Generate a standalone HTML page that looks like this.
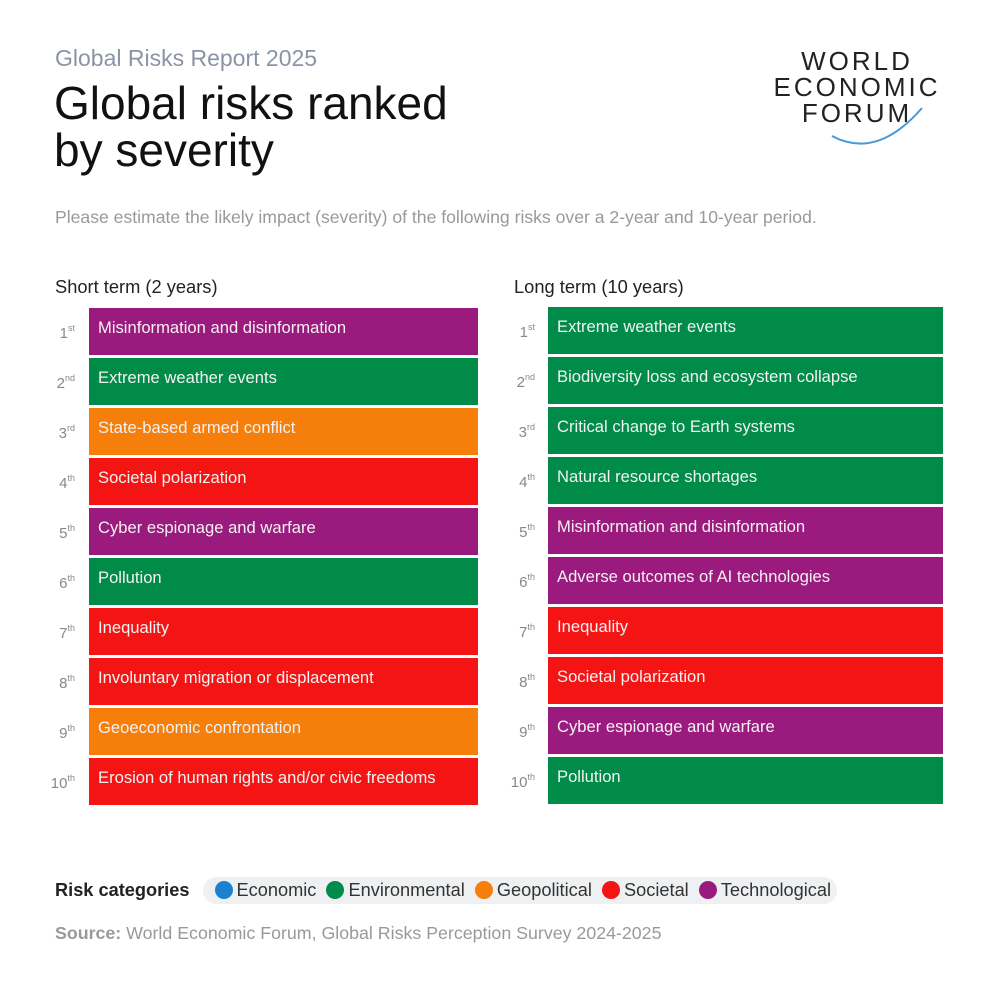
<!DOCTYPE html>
<html><head><meta charset="utf-8">
<style>
body{margin:0;width:1000px;height:990px;background:#fff;font-family:"Liberation Sans",sans-serif;position:relative;overflow:hidden}
.abs{position:absolute}
.bar{position:absolute;height:47px;color:#f2f2f2;font-size:16.6px;line-height:40px;padding-left:9px;box-sizing:border-box}
.rank{position:absolute;width:32px;text-align:right;color:#888;font-size:15px;line-height:40px}
.rank sup{font-size:9px;vertical-align:7px}
.dot{display:inline-block;width:18px;height:18px;border-radius:50%;vertical-align:-3px;margin-right:4px}
</style></head><body>
<div class="abs" style="left:55px;top:45px;font-size:23px;color:#8a94a6">Global Risks Report 2025</div>
<div class="abs" style="left:54px;top:80px;font-size:46px;line-height:47px;color:#111;font-weight:500">Global risks ranked<br>by severity</div>
<div class="abs" style="left:757px;top:48px;width:200px;text-align:center;font-size:26px;line-height:26px;letter-spacing:3px;color:#222">WORLD<br>ECONOMIC<br>FORUM
<svg class="abs" style="left:70px;top:50px" width="110" height="60"><path d="M5 38 Q50 62 95 10" stroke="#4a9ad8" stroke-width="2" fill="none"/></svg></div>
<div class="abs" style="left:55px;top:207px;font-size:17.6px;color:#999">Please estimate the likely impact (severity) of the following risks over a 2-year and 10-year period.</div>
<div class="abs" style="left:55px;top:276px;font-size:18.3px;color:#222">Short term (2 years)</div>
<div class="abs" style="left:514px;top:276px;font-size:18.3px;color:#222">Long term (10 years)</div>
<div id="charts"></div>
<div class="abs" style="left:55px;top:876px;font-size:18.2px;color:#222;line-height:28px">
<span style="font-weight:bold;margin-right:14px">Risk categories</span><span style="background:#eef0f2;border-radius:14px;padding:3px 6px 4px 6px;color:#333">
<span><span class="dot" style="background:#1a82d0"></span>Economic</span>&nbsp;
<span><span class="dot" style="background:#008b48"></span>Environmental</span>&nbsp;
<span><span class="dot" style="background:#f57f0a"></span>Geopolitical</span>&nbsp;
<span><span class="dot" style="background:#f51414"></span>Societal</span>&nbsp;
<span><span class="dot" style="background:#9b1a7e"></span>Technological</span></span></div>
<div class="abs" style="left:55px;top:923px;font-size:17.8px;color:#999"><b>Source:</b> World Economic Forum, Global Risks Perception Survey 2024-2025</div>
<script>
const shortRisks=["Misinformation and disinformation","Extreme weather events","State-based armed conflict","Societal polarization","Cyber espionage and warfare","Pollution","Inequality","Involuntary migration or displacement","Geoeconomic confrontation","Erosion of human rights and/or civic freedoms"];
const shortCats=["tech","env","geo","soc","tech","env","soc","soc","geo","soc"];
const longRisks=["Extreme weather events","Biodiversity loss and ecosystem collapse","Critical change to Earth systems","Natural resource shortages","Misinformation and disinformation","Adverse outcomes of AI technologies","Inequality","Societal polarization","Cyber espionage and warfare","Pollution"];
const longCats=["env","env","env","env","tech","tech","soc","soc","tech","env"];
const rankSuffix=["st","nd","rd","th","th","th","th","th","th","th"];
const colors={tech:"#9b1a7e",env:"#008b48",geo:"#f57f0a",soc:"#f51414",eco:"#1a82d0"};
const root=document.getElementById('charts');
function draw(risks,cats,x0,w,rx,y0,prefix){
 risks.forEach((r,i)=>{
  const y=y0+i*50;
  const rk=document.createElement('div');rk.className='rank';
  
  
  rk.style.left=rx+'px';rk.style.top=y+'px';
  rk.innerHTML=(i+1)+'<sup>'+rankSuffix[i]+'</sup>';root.appendChild(rk);
  const b=document.createElement('div');b.className='bar';
  
  
  b.style.left=x0+'px';b.style.top=y+'px';b.style.width=w+'px';b.style.background=colors[cats[i]];
  b.textContent=r;root.appendChild(b);
 });
}
draw(shortRisks,shortCats,89,389,43,308,'short-term');
draw(longRisks,longCats,548,395,503,307,'long-term');
</script>
</body></html>
